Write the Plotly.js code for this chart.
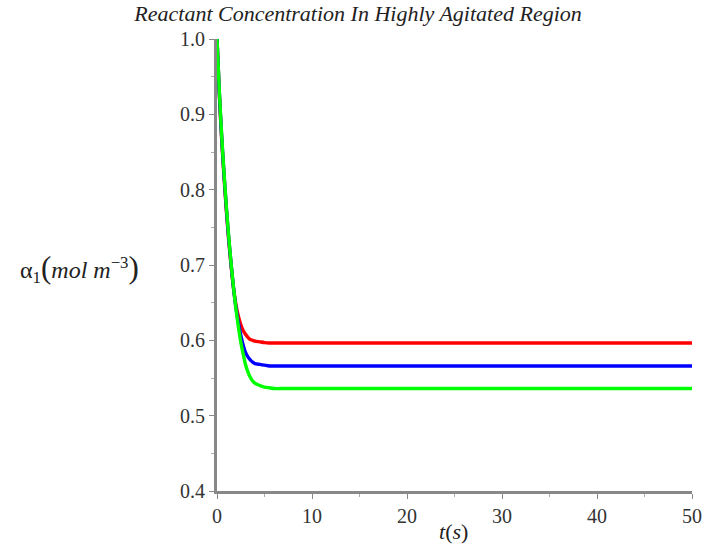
<!DOCTYPE html>
<html>
<head>
<meta charset="utf-8">
<script src="https://cdn.plot.ly/plotly-3.0.1.min.js"></script>
<style>html,body{margin:0;padding:0;background:#fff;}#chart{width:709px;height:546px;}</style>
</head>
<body>
<div id="chart"></div>
<script>
const titleText = "Reactant Concentration In Highly Agitated Region";
const xLabel = "t(s)";
const tValues = [0, 0.25, 0.5, 0.75, 1, 1.25, 1.5, 1.75, 2, 2.25, 2.5, 2.75, 3, 3.25, 3.5, 3.75, 4, 4.5, 5, 5.5, 6, 7, 8, 10, 15, 20, 30, 40, 50];
const redValues = [1.0, 0.925, 0.865, 0.815, 0.770, 0.730, 0.697, 0.668, 0.647, 0.632, 0.621, 0.613, 0.608, 0.604, 0.601, 0.600, 0.599, 0.598, 0.597, 0.5965, 0.5965, 0.5965, 0.5965, 0.5965, 0.5965, 0.5965, 0.5965, 0.5965, 0.5965];
const blueValues = [1.0, 0.927, 0.868, 0.818, 0.773, 0.733, 0.699, 0.668, 0.643, 0.624, 0.607, 0.594, 0.584, 0.578, 0.574, 0.571, 0.569, 0.568, 0.567, 0.566, 0.566, 0.566, 0.566, 0.566, 0.566, 0.566, 0.566, 0.566, 0.566];
const greenValues = [1.0, 0.930, 0.870, 0.820, 0.775, 0.735, 0.700, 0.669, 0.641, 0.618, 0.598, 0.582, 0.568, 0.558, 0.551, 0.546, 0.543, 0.540, 0.538, 0.537, 0.536, 0.536, 0.536, 0.536, 0.536, 0.536, 0.536, 0.536, 0.536];
const seriesColors = ["#ff0000", "#0000ff", "#00ff00"];

const serif = "Liberation Serif, Times New Roman, serif";
const mk = (y, c) => ({x: tValues, y: y, type: "scatter", mode: "lines",
  line: {color: c, width: 3.4, shape: "spline", smoothing: 0.6}, hoverinfo: "skip"});

const data = [mk(redValues, seriesColors[0]), mk(blueValues, seriesColors[1]), mk(greenValues, seriesColors[2])];

const axisCommon = {
  showgrid: false, zeroline: false, showline: true, linecolor: "#888888", linewidth: 3,
  ticks: "outside", ticklen: 5, tickwidth: 1, tickcolor: "#888888",
  tickfont: {family: serif, size: 20, color: "#333333"},
  minor: {ticks: "outside", ticklen: 3, tickcolor: "#aaaaaa", tickwidth: 1}
};

const layout = {
  width: 709, height: 546,
  margin: {l: 217, r: 17, t: 39, b: 55},
  paper_bgcolor: "#ffffff", plot_bgcolor: "#ffffff",
  showlegend: false,
  title: {text: "<i>" + titleText + "</i>", font: {family: serif, size: 22, color: "#222222"}, x: 0.505, xanchor: "center", y: 0.976, yanchor: "middle"},
  xaxis: Object.assign({}, axisCommon, {range: [0, 50], tickvals: [0, 10, 20, 30, 40, 50], ticktext: ["0", "10", "20", "30", "40", "50"], minor: Object.assign({}, axisCommon.minor, {dtick: 5})}),
  yaxis: Object.assign({}, axisCommon, {range: [0.4, 1.0], tickvals: [0.4, 0.5, 0.6, 0.7, 0.8, 0.9, 1.0], ticktext: ["0.4", "0.5", "0.6", "0.7", "0.8", "0.9", "1.0"], minor: Object.assign({}, axisCommon.minor, {dtick: 0.05})}),
  annotations: [
    {xref: "paper", yref: "paper", x: -0.29, y: 0.493, xanchor: "center", yanchor: "middle", showarrow: false,
     text: "α<sub>1</sub><span style='font-size:31px'>(</span><i>mol m</i><sup>−3</sup><span style='font-size:31px'>)</span>",
     font: {family: serif, size: 24, color: "#222222"}},
    {xref: "paper", yref: "paper", x: 0.497, y: -0.09, xanchor: "center", yanchor: "middle", showarrow: false,
     text: "<i>t</i>(<i>s</i>)", font: {family: serif, size: 22, color: "#222222"}}
  ]
};

Plotly.newPlot("chart", data, layout, {displayModeBar: false, staticPlot: true});
</script>
</body>
</html>
